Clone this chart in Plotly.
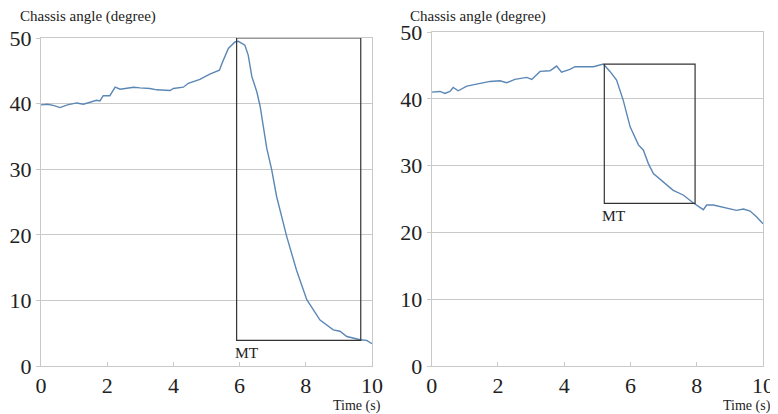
import plotly.graph_objects as go

# ---- data ----
left_time = [0, 0.2, 0.4, 0.57, 0.8, 1.08, 1.28, 1.5, 1.68, 1.78, 1.88, 2.08, 2.24, 2.39, 2.59,
             2.8, 2.99, 3.29, 3.5, 3.9, 4.0, 4.3, 4.45, 4.8, 5.1, 5.39, 5.49, 5.66, 5.86, 5.96,
             6.16, 6.26, 6.37, 6.52, 6.62, 6.72, 6.82, 6.97, 7.12, 7.42, 7.72, 8.03, 8.43,
             8.83, 9.03, 9.24, 9.64, 9.84, 10]
left_angle = [39.8, 39.9, 39.7, 39.4, 39.8, 40.1, 39.9, 40.2, 40.5, 40.4, 41.2, 41.2, 42.5, 42.2, 42.3,
              42.5, 42.4, 42.3, 42.1, 42.0, 42.3, 42.5, 43.1, 43.7, 44.5, 45.1, 46.4, 48.4, 49.4, 49.5,
              48.9, 47.4, 44.1, 41.8, 39.6, 36.0, 33.2, 29.9, 25.8, 19.8, 14.6, 10.1, 7.0,
              5.5, 5.3, 4.5, 4.0, 3.9, 3.4]

right_time = [0, 0.25, 0.4, 0.55, 0.65, 0.8, 1.06, 1.26, 1.56, 1.76, 2.06, 2.26, 2.51, 2.87, 3.02,
              3.27, 3.57, 3.77, 3.92, 4.17, 4.33, 4.88, 5.18, 5.38, 5.58, 5.78, 5.99, 6.24, 6.39,
              6.54, 6.69, 6.99, 7.29, 7.59, 7.9, 8.2, 8.3, 8.5, 8.8, 9.2, 9.41, 9.61, 9.81, 10]
right_angle = [41.0, 41.1, 40.8, 41.1, 41.7, 41.2, 41.9, 42.1, 42.3, 42.6, 42.7, 42.4, 42.9, 43.2, 42.9,
               44.1, 44.2, 44.9, 44.0, 44.4, 44.8, 44.8, 45.2, 44.1, 42.8, 39.8, 35.8, 33.1, 32.3,
               30.3, 28.8, 27.6, 26.3, 25.6, 24.4, 23.4, 24.1, 24.1, 23.8, 23.3, 23.5, 23.2, 22.3, 21.3]

# MT boxes: [t_start, t_end, angle_low, angle_high]
left_box = [5.91, 9.66, 3.9, 50.0]
right_box = [5.21, 7.95, 24.35, 45.2]

x_ticks = [0, 2, 4, 6, 8, 10]
y_ticks = [0, 10, 20, 30, 40, 50]
y_title = "Chassis angle (degree)"
x_title = "Time (s)"
mt_label = "MT"

# ---- figure ----
LINE = "#5b87b5"
GRID = "#c9c9c9"
FONT = "Liberation Serif, Times New Roman, serif"

fig = go.Figure()
fig.add_trace(go.Scatter(x=left_time, y=left_angle, mode="lines",
                         line=dict(color=LINE, width=1.4), xaxis="x", yaxis="y", showlegend=False))
fig.add_trace(go.Scatter(x=right_time, y=right_angle, mode="lines",
                         line=dict(color=LINE, width=1.4), xaxis="x2", yaxis="y2", showlegend=False))

def xax(domain, anchor):
    return dict(domain=domain, anchor=anchor, range=[0, 10], tickvals=x_ticks,
                showgrid=False, zeroline=False, showline=True, linecolor=GRID, linewidth=1,
                mirror=True, ticks="inside", ticklen=4, tickcolor=GRID, automargin=False,
                tickfont=dict(family=FONT, size=22, color="#222"), fixedrange=True)

def yax(domain, anchor):
    return dict(domain=domain, anchor=anchor, range=[0, 50], tickvals=y_ticks,
                showgrid=True, gridcolor=GRID, gridwidth=1, zeroline=False,
                showline=True, linecolor=GRID, linewidth=1, mirror=True,
                ticks="outside", ticklen=4, tickcolor=GRID, automargin=False,
                tickfont=dict(family=FONT, size=22, color="#222"), fixedrange=True)

# page has an 8px body margin, so the figure is drawn 8px smaller and shifted
W, H = 770, 406
fig.update_layout(
    width=W, height=H,
    margin=dict(l=0, r=0, t=0, b=0),
    paper_bgcolor="white", plot_bgcolor="white",
    xaxis=xax([33 / W, 364 / W], "y"),
    yaxis=yax([(H - 358) / H, (H - 30) / H], "x"),
    xaxis2=xax([423.7 / W, 755 / W], "y2"),
    yaxis2=yax([(H - 358) / H, (H - 24) / H], "x2"),
)

for (b, xr, yr) in [(left_box, "x", "y"), (right_box, "x2", "y2")]:
    fig.add_shape(type="rect", xref=xr, yref=yr, x0=b[0], x1=b[1], y0=b[2], y1=b[3],
                  line=dict(color="#333", width=1.2), fillcolor="rgba(0,0,0,0)")
    fig.add_annotation(xref=xr, yref=yr, x=b[0], y=b[2], text=mt_label, showarrow=False,
                       xanchor="left", yanchor="top", xshift=-4, yshift=-2,
                       font=dict(family=FONT, size=15.5, color="#222"))

for x0_px in [10, 400]:
    fig.add_annotation(xref="paper", yref="paper", x=x0_px / W, y=(H - 8.5) / H,
                       text=y_title, showarrow=False, xanchor="left", yanchor="middle",
                       font=dict(family=FONT, size=15, color="#222"))

for x1_px in [375, 765]:
    fig.add_annotation(xref="paper", yref="paper", x=x1_px / W, y=(H - 398) / H,
                       text=x_title, showarrow=False, xanchor="right", yanchor="middle",
                       font=dict(family=FONT, size=14, color="#222"))

fig.write_html("out.html")
